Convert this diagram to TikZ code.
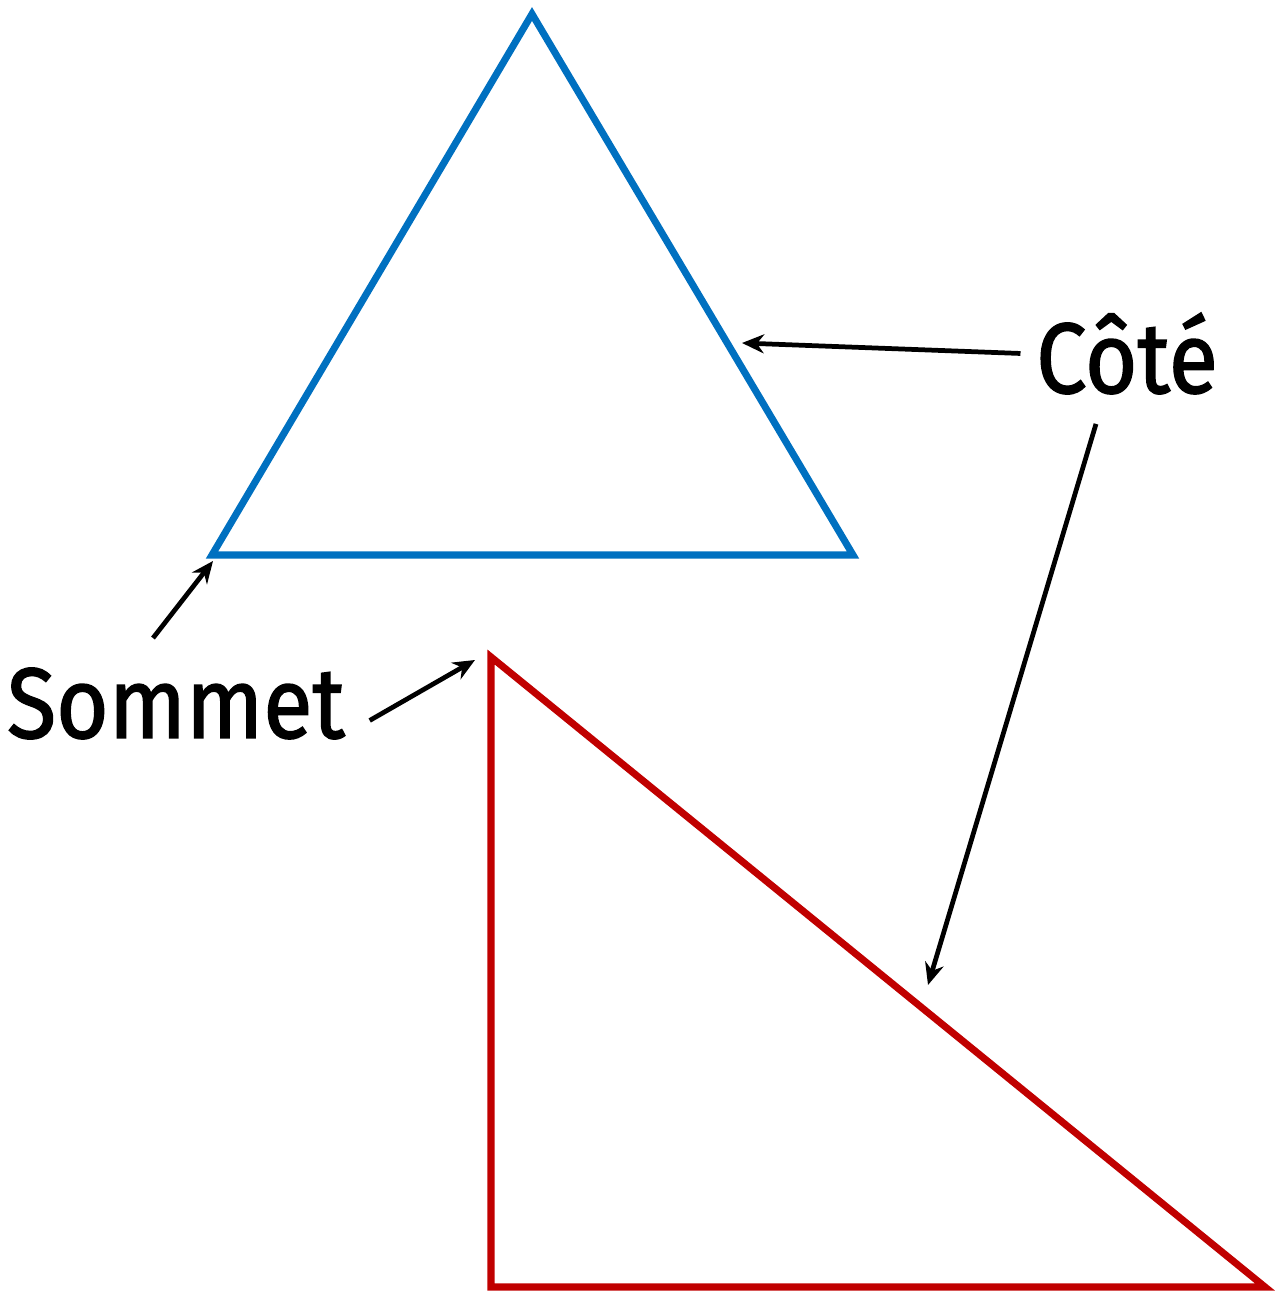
\documentclass[tikz,border=0pt]{standalone}
\usepackage{fontspec}
\setmainfont{Fira Sans}
\newfontfamily\etiqfont{Fira Sans}[FakeStretch=0.9, FakeBold=1.4]
\usetikzlibrary{arrows.meta, calc}
\definecolor{bleutri}{HTML}{0070C0}
\definecolor{rougetri}{HTML}{C00000}

\begin{document}
\begin{tikzpicture}[
  tri/.style = {line width=2pt, line join=miter},
  label/.style = {font=\etiqfont\fontsize{28.5}{34}\selectfont, inner sep=0pt, anchor=base},
  arrow/.style = {-{Stealth[length=0.22cm, width=0.19cm]}, line width=1.35pt}
]
\useasboundingbox (0,0) rectangle (12.86,12.93);
%--- TRIANGLE EQUILATERAL ---
\coordinate (a1) at (5.32,12.79);
\coordinate (a2) at (2.12,7.38);
\coordinate (a3) at (8.53,7.38);
\draw[tri, bleutri] (a1) -- (a2) -- (a3) -- cycle;
%--- TRIANGLE RECTANGLE ---
\coordinate (b1) at (4.91,6.36);
\coordinate (b2) at (4.91,0.06);
\coordinate (b3) at (12.65,0.06);
\draw[tri, rougetri] (b1) -- (b2) -- (b3) -- cycle;
%--- ETIQUETTES ---
\node[label] (cote) at (11.27,9.00) {Côté};
\node[label] (sommet) at (1.76,5.55) {Sommet};
%--- POINTES ---
\coordinate (pcote1) at (7.42,9.50);
\coordinate (pcote2) at (9.28,3.08);
\coordinate (psom1) at (2.13,7.32);
\coordinate (psom2) at (4.75,6.33);
%--- FLECHES ---
\draw[arrow] ($(cote.west)+(-0.15,0)$) -- (pcote1);
\draw[arrow] ($(cote.south)+(-0.31,-0.29)$) -- (pcote2);
\draw[arrow] ($(sommet.north)+(-0.23,0.29)$) -- (psom1);
\draw[arrow] ($(sommet.east)+(0.24,-0.17)$) -- (psom2);
\end{tikzpicture}
\end{document}
